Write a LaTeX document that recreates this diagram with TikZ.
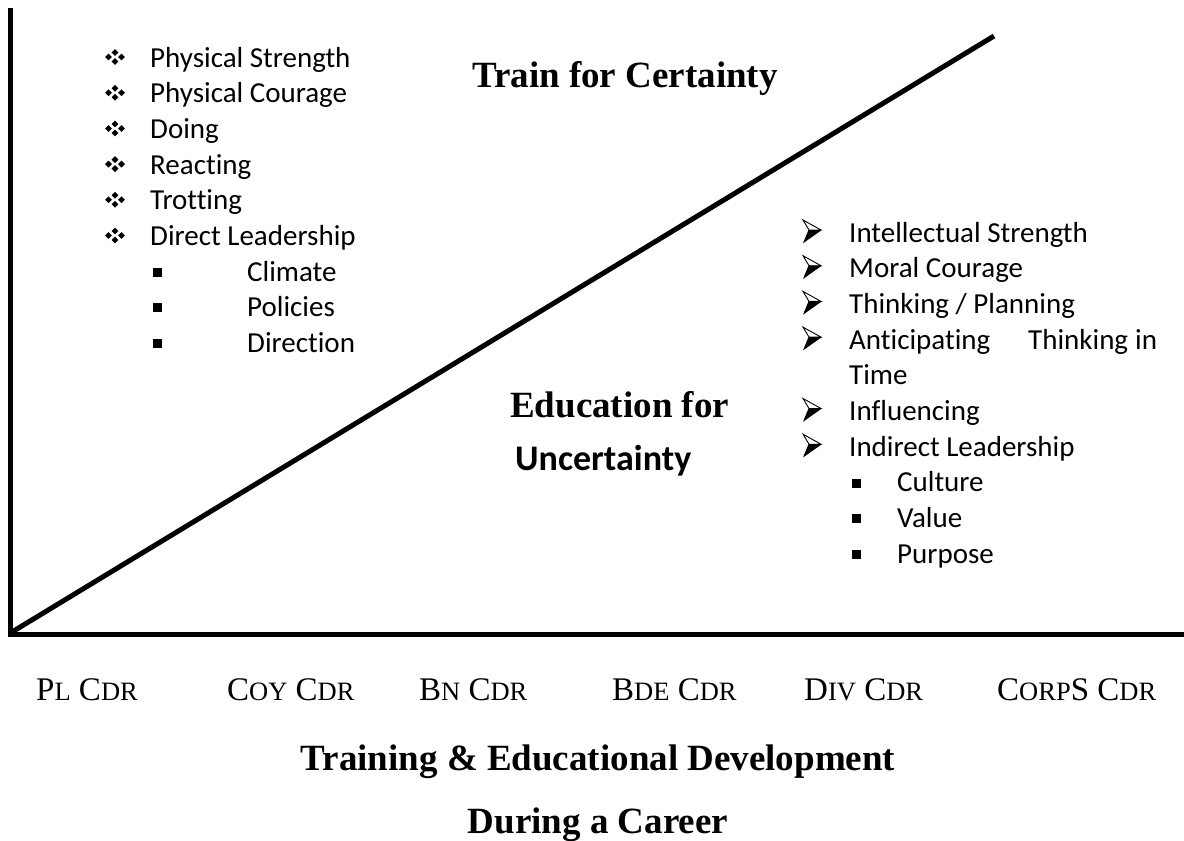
\documentclass[tikz,border=0pt]{standalone}
\usepackage{fontspec}
\setmainfont{Liberation Serif}
\newfontfamily\calibrifont{Carlito}[Ligatures=NoCommon]
\newcommand\smallcap[1]{{\fontsize{26.5}{26.5}\selectfont #1}}
\begin{document}
\begin{tikzpicture}[x=1pt,y=-1pt,
  axis/.style={line width=5pt},
  item/.style={anchor=base west,inner sep=0pt,font=\calibrifont\fontsize{29}{29}\selectfont},
  heading/.style={anchor=base west,inner sep=0pt,font=\bfseries\fontsize{37}{37}\selectfont},
  sansheading/.style={anchor=base west,inner sep=0pt,font=\calibrifont\bfseries\fontsize{36}{36}\selectfont},
  rank/.style={anchor=base west,inner sep=0pt,font=\fontsize{33}{33}\selectfont},
  caption/.style={anchor=base,inner sep=0pt,font=\bfseries\fontsize{37}{37}\selectfont},
  sqbullet/.pic={\fill (-4.5,-4.5) rectangle (4.5,4.5);},
  diamondbullet/.pic={
    \foreach \dx/\dy in {0/-4.5,-6.5/0,6.5/0,0/4.5}
      \fill (\dx,\dy) ++(0,-3.4) -- ++(3.4,3.4) -- ++(-3.4,3.4) -- ++(-3.4,-3.4) -- cycle;},
  arrowbullet/.pic={
    \draw[line width=0.9pt,line join=miter] (0,-22) -- (18,-12) -- (6,-12) -- cycle;
    \fill (6,-12) -- (18,-12) -- (1,0) -- cycle;
    \draw[line width=0.9pt] (18,-12) -- (1,0) -- (6,-12);}
]
\useasboundingbox (0,0) rectangle (1184,841);

% axes and the diagonal dividing line
\coordinate (top) at (10,10);
\coordinate (origin) at (10,634.5);
\coordinate (right) at (1184,634.5);
\coordinate (diagstart) at (12,632);
\coordinate (diagend) at (994,36);
\draw[axis,line cap=rect] (top) -- (origin) -- (right);
\draw[axis] (diagstart) -- (diagend);

% headings
\node[heading] (certainty) at (472,87) {Train for Certainty};
\node[heading] (education) at (510,417) {Education for};
\node[sansheading] (uncertainty) at (515,470) {Uncertainty};

% left list
\foreach \txt [count=\i from 0] in {Physical Strength,Physical Courage,Doing,Reacting,Trotting,Direct Leadership}{
  \pic at (115,{57+35.7*\i}) {diamondbullet};
  \node[item] (left\i) at (150,{67+35.7*\i}) {\txt};
}
\foreach \txt [count=\i from 0] in {Climate,Policies,Direction}{
  \pic at (157,{272+35.7*\i}) {sqbullet};
  \node[item] (leftsub\i) at (247,{281.2+35.7*\i}) {\txt};
}

% right list
\foreach \row/\txt in {0/{Intellectual Strength},1/{Moral Courage},2/{Thinking / Planning},3/{Anticipating},5/{Influencing},6/{Indirect Leadership}}{
  \pic at (803,{242+35.7*\row}) {arrowbullet};
  \node[item] (right\row) at (849,{242+35.7*\row}) {\txt};
}
\node[item] (thinking) at (1028,349.1) {Thinking};
\node[item] (in) at (1135,349.1) {in};
\node[item] (right4) at (849,384.8) {Time};
\foreach \txt [count=\i from 0] in {Culture,Value,Purpose}{
  \pic at (856,{483+35.7*\i}) {sqbullet};
  \node[item] (rightsub\i) at (897,{491.9+35.7*\i}) {\txt};
}

% command levels along the horizontal axis
\node[rank] (pl) at (36,700) {P\smallcap{L} C\smallcap{DR}};
\node[rank] (coy) at (227,700) {C\smallcap{OY} C\smallcap{DR}};
\node[rank] (bn) at (419,700) {B\smallcap{N} C\smallcap{DR}};
\node[rank] (bde) at (612,700) {B\smallcap{DE} C\smallcap{DR}};
\node[rank] (div) at (804,700) {D\smallcap{IV} C\smallcap{DR}};
\node[rank] (corps) at (997,700) {C\smallcap{ORP}S C\smallcap{DR}};

% caption
\node[caption] (cap1) at (598,770) {Training \& Educational Development};
\node[caption] (cap2) at (598,833) {During a Career};
\end{tikzpicture}
\end{document}
